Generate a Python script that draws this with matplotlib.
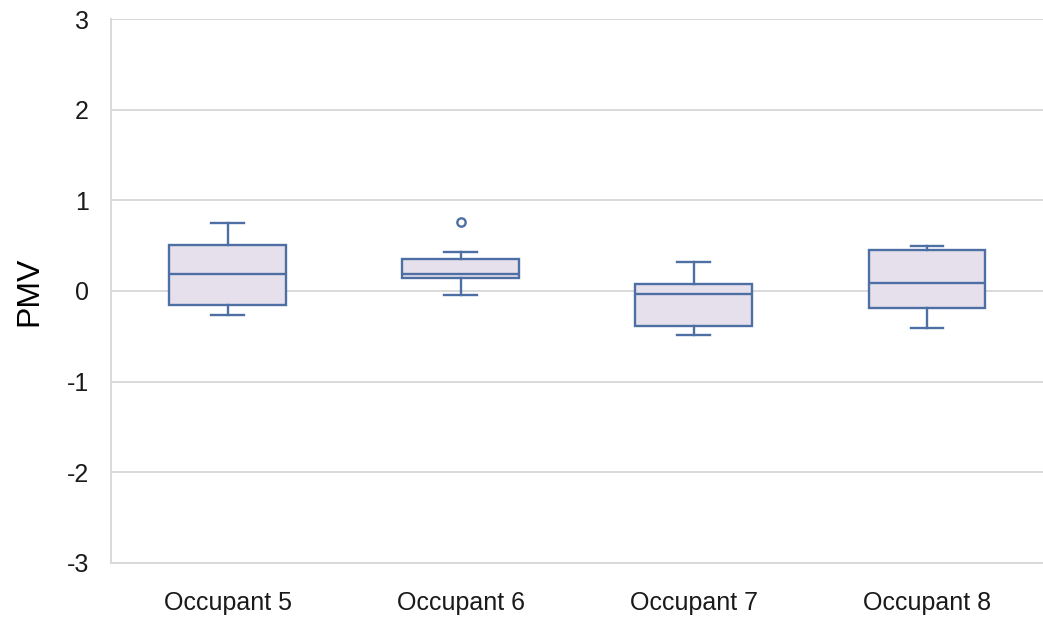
import matplotlib.pyplot as plt

# PMV box plot summary per occupant
labels = ["Occupant 5", "Occupant 6", "Occupant 7", "Occupant 8"]
whislo = [-0.26, -0.04, -0.49, -0.41]
q1 = [-0.16, 0.14, -0.39, -0.19]
med = [0.19, 0.19, -0.035, 0.085]
q3 = [0.51, 0.35, 0.08, 0.45]
whishi = [0.75, 0.43, 0.32, 0.50]
fliers = [[], [0.76], [], []]

edge = "#4e6fa3"
fill = "#e6e0ec"
grid = "#d9d9d9"

plt.rcParams['font.family'] = ['Liberation Sans', 'DejaVu Sans']
plt.rcParams['axes.unicode_minus'] = False

fig = plt.figure(figsize=(10.43, 6.19), dpi=100)
ax = fig.add_axes([0.1064, 0.0905, 0.894, 0.8788])

stats = []
for i in range(len(labels)):
    stats.append({"label": labels[i], "whislo": whislo[i], "q1": q1[i],
                  "med": med[i], "q3": q3[i], "whishi": whishi[i],
                  "fliers": fliers[i]})

ax.bxp(stats, positions=range(len(labels)), widths=0.5, capwidths=0.14,
       patch_artist=True, showfliers=True,
       boxprops=dict(facecolor=fill, edgecolor=edge, linewidth=1.7),
       medianprops=dict(color=edge, linewidth=1.7),
       whiskerprops=dict(color=edge, linewidth=1.7),
       capprops=dict(color=edge, linewidth=1.7),
       flierprops=dict(marker='o', markerfacecolor='white', markeredgecolor=edge,
                       markersize=6, markeredgewidth=1.7),
       zorder=3)

ax.set_xlim(-0.5, 3.5)
ax.set_ylim(-3, 3)
ax.set_yticks(range(-3, 4))
ax.yaxis.grid(True, color=grid, linewidth=1.4, zorder=0)
ax.set_axisbelow(True)

for s in ["top", "right"]:
    ax.spines[s].set_visible(False)
for s in ["left", "bottom"]:
    ax.spines[s].set_color(grid)
    ax.spines[s].set_linewidth(1.4)

ax.tick_params(axis='both', length=0, labelsize=18, colors='#1a1a1a')
ax.tick_params(axis='y', pad=16)
ax.tick_params(axis='x', pad=20)
ax.set_ylabel("PMV", fontsize=23, color='#000000', labelpad=16)

plt.savefig("out.png", dpi=100)
